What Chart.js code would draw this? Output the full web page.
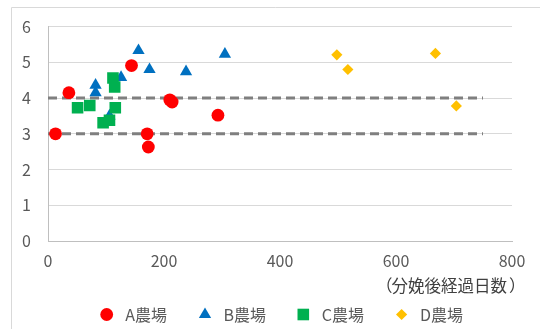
<!DOCTYPE html>
<html>
<head>
<meta charset="utf-8">
<script src="https://cdn.jsdelivr.net/npm/chart.js@4.4.1/dist/chart.umd.min.js"></script>
<style>
  html, body { margin: 0; padding: 0; background: #ffffff; }
  #wrap { width: 540px; height: 329px; position: relative; }
</style>
</head>
<body>
<div id="wrap"><canvas id="chart" width="540" height="329"></canvas></div>
<script>
// Days after calving vs. measured value, per farm
const farmNames = ['A農場', 'B農場', 'C農場', 'D農場'];

const farmA_days = [13, 36, 144, 171, 173, 210, 214, 293];
const farmA_vals = [3.0, 4.15, 4.91, 3.0, 2.63, 3.95, 3.89, 3.52];

const farmB_days = [82, 82, 106, 126, 156, 175, 238, 305];
const farmB_vals = [4.36, 4.15, 3.5, 4.58, 5.33, 4.8, 4.74, 5.23];

const farmC_days = [51, 72, 95, 106, 112, 115, 116];
const farmC_vals = [3.73, 3.79, 3.31, 3.38, 4.56, 4.31, 3.73];

const farmD_days = [498, 517, 668, 704];
const farmD_vals = [5.21, 4.8, 5.25, 3.78];

// Reference band (upper / lower) drawn as dashed lines
const thresholdValues = [4, 3];
const thresholdDays = [0, 750];

const xTicks = [0, 200, 400, 600, 800];
const yTicks = [0, 1, 2, 3, 4, 5, 6];
const xAxisTitle = ['（', '分娩後経過日数', '）'];

const FONT = '"Noto Sans CJK JP", "Noto Sans", sans-serif';
const TEXT = '#595959';

Chart.defaults.font.family = FONT;
Chart.defaults.color = TEXT;

const toPoints = (xs, ys) => xs.map((x, i) => ({ x: x, y: ys[i] }));

const farmStyles = [
  { color: '#FF0000', pointStyle: 'circle',   radius: 6.4, order: 1 },
  { color: '#0070C0', pointStyle: 'triangle', radius: 7.1, order: 3 },
  { color: '#00B050', pointStyle: 'rect',     radius: 8.2, order: 2 },
  { color: '#FFC000', pointStyle: 'rectRot',  radius: 5.6, order: 4 }
];
const farmDays = [farmA_days, farmB_days, farmC_days, farmD_days];
const farmVals = [farmA_vals, farmB_vals, farmC_vals, farmD_vals];

const datasets = farmNames.map((name, i) => ({
  label: name,
  data: toPoints(farmDays[i], farmVals[i]),
  pointStyle: farmStyles[i].pointStyle,
  pointRadius: farmStyles[i].radius,
  pointHoverRadius: farmStyles[i].radius,
  pointBackgroundColor: farmStyles[i].color,
  pointBorderColor: farmStyles[i].color,
  pointBorderWidth: 0,
  backgroundColor: farmStyles[i].color,
  borderColor: farmStyles[i].color,
  showLine: false,
  order: farmStyles[i].order,
  inLegend: true
}));

thresholdValues.forEach((v) => {
  datasets.push({
    label: 'threshold ' + v,
    data: thresholdDays.map((d) => ({ x: d, y: v })),
    showLine: true,
    pointRadius: 0,
    pointHoverRadius: 0,
    borderColor: '#7F7F7F',
    borderWidth: 3,
    borderDash: [9, 5],
    fill: false,
    order: 10,
    inLegend: false
  });
});

// Thin frame around the whole chart
const framePlugin = {
  id: 'frame',
  beforeDraw(chart) {
    const ctx = chart.ctx;
    ctx.save();
    ctx.strokeStyle = '#D9D9D9';
    ctx.lineWidth = 1;
    ctx.beginPath();
    ctx.moveTo(11.5, chart.height);
    ctx.lineTo(11.5, 7.5);
    ctx.lineTo(chart.width, 7.5);
    ctx.stroke();
    ctx.restore();
  }
};

// Axis caption under the x ticks and the marker legend along the bottom
const captionLegendPlugin = {
  id: 'captionLegend',
  afterDraw(chart) {
    const ctx = chart.ctx;
    ctx.save();
    ctx.font = '16.5px ' + FONT;
    ctx.fillStyle = '#404040';
    ctx.textBaseline = 'middle';
    const capY = 285.5;
    const bodyLeft = 391.5;
    ctx.textAlign = 'right';
    ctx.fillText(xAxisTitle[0], bodyLeft + 1, capY);
    ctx.textAlign = 'left';
    ctx.fillText(xAxisTitle[1], bodyLeft, capY);
    const bodyRight = bodyLeft + ctx.measureText(xAxisTitle[1]).width;
    ctx.fillText(xAxisTitle[2], bodyRight + 2, capY);

    ctx.font = '16px ' + FONT;
    const legendY = 314.5;
    const startX = 106.7;
    const step = 98.3;
    const gap = 18.5;
    const items = chart.data.datasets.filter((d) => d.inLegend);
    items.forEach((d, i) => {
      const cx = startX + i * step;
      ctx.fillStyle = d.pointBackgroundColor;
      ctx.strokeStyle = d.pointBackgroundColor;
      const opts = { pointStyle: d.pointStyle, radius: d.pointRadius, rotation: 0, borderWidth: 0 };
      if (Chart.helpers && Chart.helpers.drawPoint) {
        Chart.helpers.drawPoint(ctx, opts, cx, legendY);
      }
      ctx.fillStyle = TEXT;
      ctx.textAlign = 'left';
      ctx.fillText(d.label, cx + gap, legendY);
    });
    ctx.restore();
  }
};

new Chart(document.getElementById('chart'), {
  type: 'scatter',
  data: { datasets: datasets },
  options: {
    responsive: false,
    animation: false,
    devicePixelRatio: 1,
    layout: { padding: { left: 0, right: 28, top: 25, bottom: 0 } },
    plugins: {
      legend: { display: false },
      tooltip: { enabled: false },
      title: { display: false }
    },
    scales: {
      x: {
        type: 'linear',
        min: xTicks[0],
        max: xTicks[xTicks.length - 1],
        afterBuildTicks: (s) => { s.ticks = xTicks.map((v) => ({ value: v })); },
        afterFit: (s) => { s.height = 88; },
        ticks: { color: TEXT, font: { size: 16, lineHeight: 1.2 }, padding: 10.4, maxRotation: 0 },
        grid: { display: false, drawTicks: false },
        border: { display: true, color: '#BFBFBF', width: 1 }
      },
      y: {
        type: 'linear',
        min: yTicks[0],
        max: yTicks[yTicks.length - 1],
        afterBuildTicks: (s) => { s.ticks = yTicks.map((v) => ({ value: v })); },
        afterFit: (s) => { s.width = 48; },
        ticks: { color: TEXT, font: { size: 16, lineHeight: 1.2 }, padding: 17 },
        grid: { color: '#D9D9D9', lineWidth: 1, drawTicks: false },
        border: { display: true, color: '#BFBFBF', width: 1 }
      }
    }
  },
  plugins: [framePlugin, captionLegendPlugin]
});
</script>
</body>
</html>
